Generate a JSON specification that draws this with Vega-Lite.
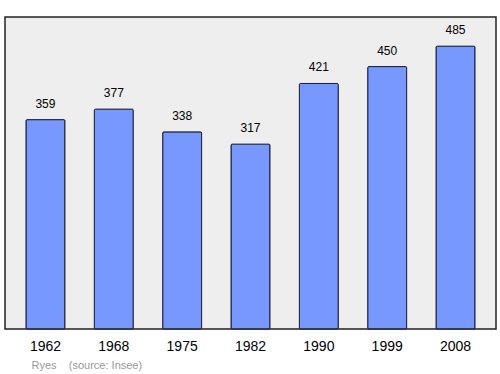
{
  "$schema": "https://vega.github.io/schema/vega-lite/v6.json",
  "width": 491,
  "height": 312,
  "autosize": {"type": "none"},
  "padding": {"left": 5, "top": 17, "right": 4, "bottom": 45},
  "background": "white",
  "config": {
    "font": "Liberation Sans",
    "view": {"fill": "#eeeeee", "stroke": "#222222", "strokeWidth": 1.5}
  },
  "data": {
    "values": [
      {"year": "1962", "pop": 359},
      {"year": "1968", "pop": 377},
      {"year": "1975", "pop": 338},
      {"year": "1982", "pop": 317},
      {"year": "1990", "pop": 421},
      {"year": "1999", "pop": 450},
      {"year": "2008", "pop": 485}
    ]
  },
  "encoding": {
    "x": {
      "field": "year",
      "type": "nominal",
      "sort": null,
      "scale": {"paddingInner": 0.43, "paddingOuter": 0.307},
      "axis": {
        "title": "Ryes\u00a0\u00a0\u00a0\u00a0(source: Insee)",
        "titleX": 26,
        "titleY": 36,
        "titleAlign": "left",
        "titleAnchor": "start",
        "titleBaseline": "middle",
        "titleFontSize": 11,
        "titleFontWeight": "normal",
        "titleColor": "#999999",
        "labelAngle": 0,
        "labelFontSize": 14,
        "labelColor": "#000000",
        "labelPadding": 10,
        "ticks": false,
        "domain": false
      }
    },
    "y": {
      "field": "pop",
      "type": "quantitative",
      "scale": {"domain": [0, 535], "nice": false, "zero": true},
      "axis": null
    }
  },
  "layer": [
    {
      "mark": {"type": "bar", "fill": "#7799ff", "stroke": "#1a1a33", "strokeWidth": 1, "cornerRadius": 1}
    },
    {
      "mark": {"type": "text", "baseline": "bottom", "dy": -9, "fontSize": 12, "color": "#000000"},
      "encoding": {"text": {"field": "pop", "type": "quantitative"}}
    }
  ]
}
